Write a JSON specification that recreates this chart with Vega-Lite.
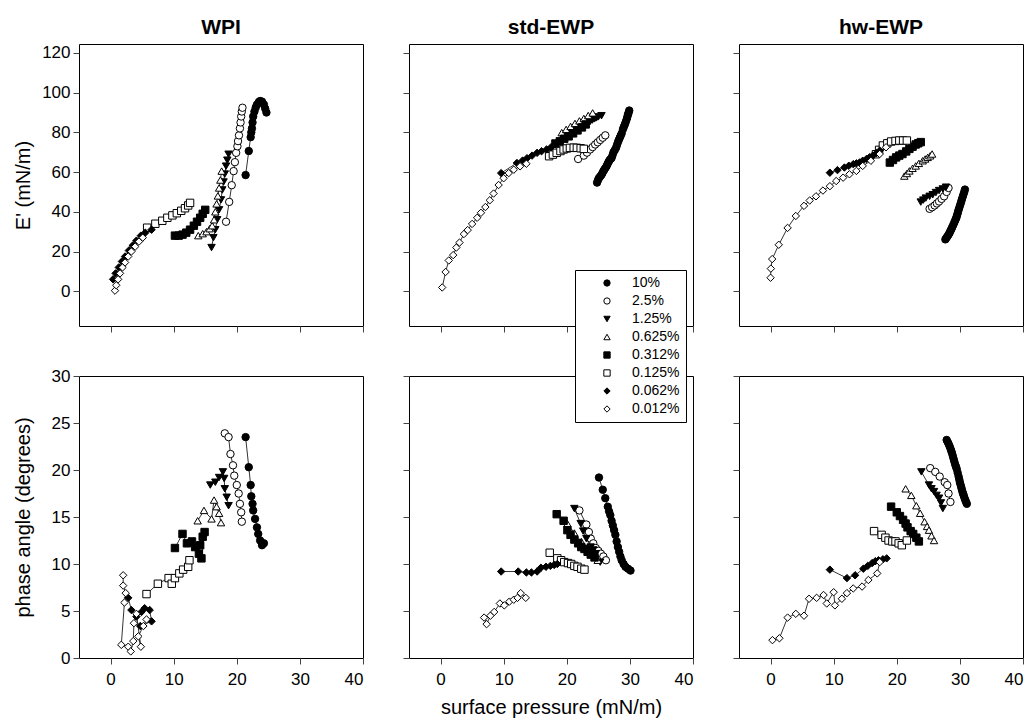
{
"$schema": "https://vega.github.io/schema/vega-lite/v6.json",
"background": "white",
"padding": {"left": 12, "top": 16, "right": 0, "bottom": 0},
"config": {
  "view": {"stroke": "black", "strokeWidth": 1},
  "axis": {"domain": false, "grid": false, "tickColor": "#444", "tickSize": 6, "tickWidth": 1, "labelFont": "Liberation Sans", "labelFontSize": 17, "labelColor": "black", "labelPadding": 3, "titleFont": "Liberation Sans", "titleFontSize": 20, "titleFontWeight": "normal", "titleColor": "black"},
  "axisX": {"labelPadding": 7},
  "title": {"font": "Liberation Sans", "fontSize": 21, "fontWeight": "bold", "color": "black", "offset": 6}
},
"datasets": {
"wE": [
{"c":"10%","x":21.4,"y":58.5},{"c":"10%","x":21.9,"y":70.6},{"c":"10%","x":22.2,"y":77.6},{"c":"10%","x":22.3,"y":80},{"c":"10%","x":22.4,"y":82},{"c":"10%","x":22.5,"y":85},{"c":"10%","x":22.6,"y":88},{"c":"10%","x":22.8,"y":90.5},{"c":"10%","x":23,"y":92.5},{"c":"10%","x":23.2,"y":94},{"c":"10%","x":23.5,"y":95.3},{"c":"10%","x":23.7,"y":95.8},{"c":"10%","x":24,"y":95.5},{"c":"10%","x":24.3,"y":94},{"c":"10%","x":24.5,"y":92},{"c":"10%","x":24.7,"y":90},
{"c":"2.5%","x":18.3,"y":35},{"c":"2.5%","x":18.8,"y":45},{"c":"2.5%","x":19.2,"y":53.4},{"c":"2.5%","x":19.5,"y":60.5},{"c":"2.5%","x":19.7,"y":65},{"c":"2.5%","x":19.9,"y":69.7},{"c":"2.5%","x":20.1,"y":73},{"c":"2.5%","x":20.2,"y":75.6},{"c":"2.5%","x":20.35,"y":78.5},{"c":"2.5%","x":20.5,"y":82},{"c":"2.5%","x":20.6,"y":85},{"c":"2.5%","x":20.7,"y":88},{"c":"2.5%","x":20.8,"y":90.5},{"c":"2.5%","x":20.9,"y":92.4},
{"c":"1.25%","x":16,"y":22},{"c":"1.25%","x":16.3,"y":27},{"c":"1.25%","x":16.6,"y":31},{"c":"1.25%","x":16.9,"y":36},{"c":"1.25%","x":17.2,"y":41},{"c":"1.25%","x":17.5,"y":46},{"c":"1.25%","x":17.7,"y":51},{"c":"1.25%","x":17.9,"y":55},{"c":"1.25%","x":18.1,"y":59},{"c":"1.25%","x":18.3,"y":63},{"c":"1.25%","x":18.5,"y":66},{"c":"1.25%","x":18.7,"y":69},
{"c":"0.625%","x":13.9,"y":28},{"c":"0.625%","x":14.6,"y":29},{"c":"0.625%","x":15.2,"y":30},{"c":"0.625%","x":15.7,"y":31.5},{"c":"0.625%","x":16.1,"y":33},{"c":"0.625%","x":16.4,"y":36},{"c":"0.625%","x":16.6,"y":40},{"c":"0.625%","x":16.8,"y":44},{"c":"0.625%","x":17,"y":48},{"c":"0.625%","x":17.2,"y":52},{"c":"0.625%","x":17.4,"y":56},{"c":"0.625%","x":17.6,"y":60.5},
{"c":"0.312%","x":10.2,"y":28},{"c":"0.312%","x":10.8,"y":28},{"c":"0.312%","x":11.4,"y":28.5},{"c":"0.312%","x":12,"y":29.5},{"c":"0.312%","x":12.6,"y":31},{"c":"0.312%","x":13.2,"y":33},{"c":"0.312%","x":13.7,"y":35},{"c":"0.312%","x":14.2,"y":37},{"c":"0.312%","x":14.6,"y":39},{"c":"0.312%","x":15,"y":41},
{"c":"0.125%","x":5.8,"y":32},{"c":"0.125%","x":7.1,"y":34},{"c":"0.125%","x":8.2,"y":35.5},{"c":"0.125%","x":9,"y":37},{"c":"0.125%","x":9.8,"y":38.2},{"c":"0.125%","x":10.5,"y":39.3},{"c":"0.125%","x":11.2,"y":40.5},{"c":"0.125%","x":11.8,"y":41.8},{"c":"0.125%","x":12.3,"y":43.2},{"c":"0.125%","x":12.6,"y":44.5},
{"c":"0.062%","x":0.4,"y":6},{"c":"0.062%","x":0.8,"y":9},{"c":"0.062%","x":1.3,"y":12},{"c":"0.062%","x":1.8,"y":15},{"c":"0.062%","x":2.3,"y":17.5},{"c":"0.062%","x":2.9,"y":20.5},{"c":"0.062%","x":3.5,"y":23},{"c":"0.062%","x":4.1,"y":25.5},{"c":"0.062%","x":4.8,"y":28},{"c":"0.062%","x":5.5,"y":29.5},{"c":"0.062%","x":6.5,"y":31},
{"c":"0.012%","x":0.7,"y":0.3},{"c":"0.012%","x":0.9,"y":3},{"c":"0.012%","x":1.2,"y":6},{"c":"0.012%","x":1.5,"y":9},{"c":"0.012%","x":1.9,"y":12},{"c":"0.012%","x":2.3,"y":14.5},{"c":"0.012%","x":2.8,"y":17.5},{"c":"0.012%","x":3.3,"y":20},{"c":"0.012%","x":3.9,"y":22.5},{"c":"0.012%","x":4.5,"y":25},{"c":"0.012%","x":5.1,"y":27}
],
"sE": [
{"c":"10%","x":24.8,"y":54.7},{"c":"10%","x":24.95,"y":56},{"c":"10%","x":25.1,"y":57},{"c":"10%","x":25.3,"y":57.8},{"c":"10%","x":25.5,"y":58.6},{"c":"10%","x":25.65,"y":59.5},{"c":"10%","x":25.8,"y":60.5},{"c":"10%","x":25.95,"y":61.2},{"c":"10%","x":26.1,"y":62},{"c":"10%","x":26.3,"y":62.9},{"c":"10%","x":26.45,"y":64},{"c":"10%","x":26.6,"y":65},{"c":"10%","x":26.75,"y":65.8},{"c":"10%","x":26.9,"y":66.5},{"c":"10%","x":27.1,"y":67.1},{"c":"10%","x":27.25,"y":68.5},{"c":"10%","x":27.4,"y":70},{"c":"10%","x":27.6,"y":71},{"c":"10%","x":27.8,"y":72.2},{"c":"10%","x":27.95,"y":73.6},{"c":"10%","x":28.1,"y":75},{"c":"10%","x":28.25,"y":76.2},{"c":"10%","x":28.4,"y":77.3},{"c":"10%","x":28.55,"y":78.4},{"c":"10%","x":28.7,"y":79.5},{"c":"10%","x":28.9,"y":81.6},{"c":"10%","x":29.05,"y":82.8},{"c":"10%","x":29.2,"y":84},{"c":"10%","x":29.35,"y":85.3},{"c":"10%","x":29.5,"y":86.7},{"c":"10%","x":29.6,"y":87.8},{"c":"10%","x":29.7,"y":89},{"c":"10%","x":29.8,"y":90},{"c":"10%","x":29.9,"y":91},
{"c":"2.5%","x":21.8,"y":66.6},{"c":"2.5%","x":22.7,"y":68.3},{"c":"2.5%","x":23.2,"y":69.8},{"c":"2.5%","x":23.7,"y":71.4},{"c":"2.5%","x":24.1,"y":72.6},{"c":"2.5%","x":24.5,"y":73.9},{"c":"2.5%","x":24.9,"y":75},{"c":"2.5%","x":25.3,"y":76.2},{"c":"2.5%","x":25.7,"y":77.3},{"c":"2.5%","x":26.1,"y":78.5},
{"c":"1.25%","x":19.5,"y":76.5},{"c":"1.25%","x":19.85,"y":77.2},{"c":"1.25%","x":20.2,"y":78},{"c":"1.25%","x":20.55,"y":78.7},{"c":"1.25%","x":20.9,"y":79.5},{"c":"1.25%","x":21.25,"y":80.2},{"c":"1.25%","x":21.6,"y":81},{"c":"1.25%","x":21.95,"y":81.8},{"c":"1.25%","x":22.3,"y":82.5},{"c":"1.25%","x":22.65,"y":83.2},{"c":"1.25%","x":23,"y":84},{"c":"1.25%","x":23.35,"y":84.8},{"c":"1.25%","x":23.7,"y":85.5},{"c":"1.25%","x":24.05,"y":86.2},{"c":"1.25%","x":24.4,"y":86.8},{"c":"1.25%","x":24.7,"y":87.3},{"c":"1.25%","x":25,"y":87.8},{"c":"1.25%","x":25.5,"y":88.4},
{"c":"0.625%","x":19.2,"y":79.9},{"c":"0.625%","x":19.9,"y":81.5},{"c":"0.625%","x":20.6,"y":83},{"c":"0.625%","x":21.3,"y":84.5},{"c":"0.625%","x":22,"y":85.8},{"c":"0.625%","x":22.7,"y":87},{"c":"0.625%","x":23.4,"y":88.5},{"c":"0.625%","x":24.1,"y":89.8},
{"c":"0.312%","x":18.2,"y":74.4},{"c":"0.312%","x":18.9,"y":75.5},{"c":"0.312%","x":19.6,"y":76.8},{"c":"0.312%","x":20.3,"y":78},{"c":"0.312%","x":21,"y":79.5},{"c":"0.312%","x":21.7,"y":81},{"c":"0.312%","x":22.4,"y":82.5},{"c":"0.312%","x":23,"y":84},
{"c":"0.125%","x":17.2,"y":68},{"c":"0.125%","x":17.8,"y":68.8},{"c":"0.125%","x":18.4,"y":69.7},{"c":"0.125%","x":19,"y":70.6},{"c":"0.125%","x":19.5,"y":71.4},{"c":"0.125%","x":20,"y":71.9},{"c":"0.125%","x":20.5,"y":72.2},{"c":"0.125%","x":21.1,"y":72.3},{"c":"0.125%","x":21.6,"y":72.2},{"c":"0.125%","x":22.2,"y":72},{"c":"0.125%","x":22.7,"y":71.7},
{"c":"0.062%","x":9.6,"y":59.5},{"c":"0.062%","x":12.1,"y":64.6},{"c":"0.062%","x":13,"y":65.8},{"c":"0.062%","x":13.7,"y":67},{"c":"0.062%","x":14.5,"y":68.3},{"c":"0.062%","x":15.3,"y":69.7},{"c":"0.062%","x":16,"y":70.5},{"c":"0.062%","x":16.8,"y":71.4},{"c":"0.062%","x":17.5,"y":72.5},{"c":"0.062%","x":18.2,"y":74},
{"c":"0.012%","x":0.26,"y":1.9},{"c":"0.012%","x":0.8,"y":9.7},{"c":"0.012%","x":1.3,"y":15.5},{"c":"0.012%","x":2,"y":18.2},{"c":"0.012%","x":2.5,"y":22},{"c":"0.012%","x":3,"y":24.5},{"c":"0.012%","x":3.7,"y":28.8},{"c":"0.012%","x":4.3,"y":30.8},{"c":"0.012%","x":5,"y":33.9},{"c":"0.012%","x":5.8,"y":37},{"c":"0.012%","x":6.4,"y":39.5},{"c":"0.012%","x":7.1,"y":42.4},{"c":"0.012%","x":7.8,"y":45.8},{"c":"0.012%","x":8.4,"y":49.2},{"c":"0.012%","x":9.2,"y":53.5},{"c":"0.012%","x":10,"y":56.9},{"c":"0.012%","x":10.8,"y":59.5},{"c":"0.012%","x":11.6,"y":61.2},{"c":"0.012%","x":12.6,"y":62.9},{"c":"0.012%","x":13.6,"y":64.2}
],
"hE": [
{"c":"10%","x":27.7,"y":26.1},{"c":"10%","x":27.85,"y":26.8},{"c":"10%","x":28,"y":27.5},{"c":"10%","x":28.15,"y":28.2},{"c":"10%","x":28.3,"y":29},{"c":"10%","x":28.42,"y":29.8},{"c":"10%","x":28.55,"y":30.7},{"c":"10%","x":28.68,"y":31.5},{"c":"10%","x":28.8,"y":32.4},{"c":"10%","x":28.95,"y":33.4},{"c":"10%","x":29.1,"y":34.5},{"c":"10%","x":29.25,"y":35.6},{"c":"10%","x":29.4,"y":36.7},{"c":"10%","x":29.5,"y":37.7},{"c":"10%","x":29.6,"y":38.8},{"c":"10%","x":29.7,"y":39.9},{"c":"10%","x":29.8,"y":41},{"c":"10%","x":29.92,"y":42.2},{"c":"10%","x":30.05,"y":43.5},{"c":"10%","x":30.18,"y":44.8},{"c":"10%","x":30.3,"y":46.1},{"c":"10%","x":30.42,"y":47.3},{"c":"10%","x":30.55,"y":48.6},{"c":"10%","x":30.68,"y":49.9},{"c":"10%","x":30.8,"y":51.2},
{"c":"2.5%","x":25.2,"y":41.5},{"c":"2.5%","x":25.6,"y":42.3},{"c":"2.5%","x":26,"y":43.2},{"c":"2.5%","x":26.35,"y":44.2},{"c":"2.5%","x":26.7,"y":45.2},{"c":"2.5%","x":27.1,"y":46.5},{"c":"2.5%","x":27.5,"y":47.8},{"c":"2.5%","x":27.9,"y":50},{"c":"2.5%","x":28.2,"y":52},
{"c":"1.25%","x":23.8,"y":44.9},{"c":"1.25%","x":24.2,"y":45.9},{"c":"1.25%","x":24.6,"y":46.9},{"c":"1.25%","x":25.2,"y":47.8},{"c":"1.25%","x":25.7,"y":48.6},{"c":"1.25%","x":26.2,"y":49.7},{"c":"1.25%","x":26.7,"y":50.7},{"c":"1.25%","x":27.3,"y":51.5},{"c":"1.25%","x":27.8,"y":52.4},
{"c":"0.625%","x":21.2,"y":58},{"c":"0.625%","x":21.6,"y":59.3},{"c":"0.625%","x":22,"y":60.6},{"c":"0.625%","x":22.5,"y":61.9},{"c":"0.625%","x":23,"y":63.1},{"c":"0.625%","x":23.5,"y":64.4},{"c":"0.625%","x":24.1,"y":65.7},{"c":"0.625%","x":24.5,"y":66.6},{"c":"0.625%","x":24.9,"y":67.4},{"c":"0.625%","x":25.3,"y":68.2},{"c":"0.625%","x":25.6,"y":69.1},
{"c":"0.312%","x":18.9,"y":64.8},{"c":"0.312%","x":19.4,"y":66.1},{"c":"0.312%","x":19.9,"y":67.4},{"c":"0.312%","x":20.4,"y":68.3},{"c":"0.312%","x":20.9,"y":69.1},{"c":"0.312%","x":21.5,"y":70.4},{"c":"0.312%","x":22,"y":71.7},{"c":"0.312%","x":22.5,"y":72.8},{"c":"0.312%","x":23,"y":73.9},{"c":"0.312%","x":23.4,"y":74.5},{"c":"0.312%","x":23.8,"y":75.1},
{"c":"0.125%","x":16.7,"y":69},{"c":"0.125%","x":17.2,"y":71.2},{"c":"0.125%","x":17.8,"y":73.4},{"c":"0.125%","x":18.5,"y":74.5},{"c":"0.125%","x":19.1,"y":75.4},{"c":"0.125%","x":19.8,"y":75.7},{"c":"0.125%","x":20.4,"y":75.9},{"c":"0.125%","x":21,"y":75.9},{"c":"0.125%","x":21.6,"y":75.9},
{"c":"0.062%","x":9.4,"y":59.7},{"c":"0.062%","x":10.6,"y":61},{"c":"0.062%","x":11.7,"y":62.3},{"c":"0.062%","x":12.4,"y":63.2},{"c":"0.062%","x":13.1,"y":64},{"c":"0.062%","x":13.6,"y":64.4},{"c":"0.062%","x":14.1,"y":64.8},{"c":"0.062%","x":14.6,"y":65.7},{"c":"0.062%","x":15.2,"y":66.6},{"c":"0.062%","x":15.7,"y":67.5},{"c":"0.062%","x":16.2,"y":68.3},{"c":"0.062%","x":16.8,"y":69.6},{"c":"0.062%","x":17.3,"y":70.8},
{"c":"0.012%","x":0,"y":6.8},{"c":"0.012%","x":0.05,"y":11.4},{"c":"0.012%","x":0.26,"y":16.2},{"c":"0.012%","x":1.3,"y":23.4},{"c":"0.012%","x":2.7,"y":31.9},{"c":"0.012%","x":4,"y":37.9},{"c":"0.012%","x":5.3,"y":43},{"c":"0.012%","x":6.2,"y":45.7},{"c":"0.012%","x":7.2,"y":47.8},{"c":"0.012%","x":8.3,"y":50.7},{"c":"0.012%","x":9.4,"y":52.9},{"c":"0.012%","x":10.4,"y":55.5},{"c":"0.012%","x":11.5,"y":57.2},{"c":"0.012%","x":12.5,"y":58.9},{"c":"0.012%","x":13.6,"y":60.6},{"c":"0.012%","x":14.6,"y":63.1},{"c":"0.012%","x":15.9,"y":65.7},{"c":"0.012%","x":17.3,"y":69.1},{"c":"0.012%","x":18.3,"y":72.5}
],
"wP": [
{"c":"10%","x":21.4,"y":23.5},{"c":"10%","x":21.9,"y":20.3},{"c":"10%","x":22.2,"y":18.4},{"c":"10%","x":22.3,"y":17.2},{"c":"10%","x":22.5,"y":16.4},{"c":"10%","x":22.6,"y":15.7},{"c":"10%","x":22.9,"y":14.8},{"c":"10%","x":23.2,"y":13.9},{"c":"10%","x":23.4,"y":13.2},{"c":"10%","x":23.7,"y":12.5},{"c":"10%","x":24,"y":12},{"c":"10%","x":24.3,"y":12.2},
{"c":"2.5%","x":18.1,"y":23.9},{"c":"2.5%","x":18.7,"y":23.5},{"c":"2.5%","x":19,"y":21.7},{"c":"2.5%","x":19.4,"y":20.5},{"c":"2.5%","x":19.6,"y":19.4},{"c":"2.5%","x":20,"y":18.4},{"c":"2.5%","x":20.3,"y":17.5},{"c":"2.5%","x":20.5,"y":16.4},{"c":"2.5%","x":20.7,"y":15.5},{"c":"2.5%","x":20.8,"y":14.5},
{"c":"1.25%","x":15.8,"y":18.4},{"c":"1.25%","x":16.6,"y":18.7},{"c":"1.25%","x":17.2,"y":19.2},{"c":"1.25%","x":17.8,"y":19.8},{"c":"1.25%","x":18,"y":19.1},{"c":"1.25%","x":18.1,"y":18},{"c":"1.25%","x":18.4,"y":17.1},{"c":"1.25%","x":18.7,"y":16.2},
{"c":"0.625%","x":13.8,"y":14.6},{"c":"0.625%","x":14.8,"y":15.7},{"c":"0.625%","x":16,"y":14.8},{"c":"0.625%","x":16.4,"y":16.8},{"c":"0.625%","x":16.8,"y":16.1},{"c":"0.625%","x":17.2,"y":15.4},{"c":"0.625%","x":17.5,"y":14.4},
{"c":"0.312%","x":10.2,"y":11.7},{"c":"0.312%","x":11.4,"y":13.2},{"c":"0.312%","x":12.1,"y":12.2},{"c":"0.312%","x":12.9,"y":12.4},{"c":"0.312%","x":13.4,"y":11.8},{"c":"0.312%","x":14,"y":11.1},{"c":"0.312%","x":14.2,"y":12},{"c":"0.312%","x":14.6,"y":12.9},{"c":"0.312%","x":14.9,"y":13.4},{"c":"0.312%","x":14.4,"y":10.6},
{"c":"0.125%","x":5.7,"y":6.8},{"c":"0.125%","x":7.5,"y":7.9},{"c":"0.125%","x":9.2,"y":8.5},{"c":"0.125%","x":9.7,"y":7.9},{"c":"0.125%","x":10.2,"y":8.5},{"c":"0.125%","x":10.9,"y":9},{"c":"0.125%","x":11.5,"y":9.4},{"c":"0.125%","x":12.3,"y":9.7},{"c":"0.125%","x":12.5,"y":10.4},
{"c":"0.062%","x":2.8,"y":6.4},{"c":"0.062%","x":3.3,"y":5.1},{"c":"0.062%","x":4.1,"y":4.4},{"c":"0.062%","x":4.9,"y":4.9},{"c":"0.062%","x":5.4,"y":5.3},{"c":"0.062%","x":6.2,"y":5.1},{"c":"0.062%","x":6.5,"y":3.9},{"c":"0.062%","x":4.7,"y":3.4},
{"c":"0.012%","x":2,"y":8.8},{"c":"0.012%","x":2,"y":7.7},{"c":"0.012%","x":2.4,"y":6.9},{"c":"0.012%","x":2.2,"y":5.9},{"c":"0.012%","x":1.7,"y":1.4},{"c":"0.012%","x":2.8,"y":1.2},{"c":"0.012%","x":3.2,"y":0.7},{"c":"0.012%","x":3.6,"y":1.8},{"c":"0.012%","x":3.7,"y":3.7},{"c":"0.012%","x":4.1,"y":4.7},{"c":"0.012%","x":4.8,"y":1.2},{"c":"0.012%","x":4.4,"y":2.3},{"c":"0.012%","x":5.2,"y":3.4},{"c":"0.012%","x":5.7,"y":4.1}
],
"sP": [
{"c":"10%","x":25.1,"y":19.2},{"c":"10%","x":25.7,"y":17.9},{"c":"10%","x":26.1,"y":17},{"c":"10%","x":26.5,"y":16.1},{"c":"10%","x":26.7,"y":15.6},{"c":"10%","x":26.9,"y":15.2},{"c":"10%","x":27.1,"y":14.6},{"c":"10%","x":27.3,"y":14.1},{"c":"10%","x":27.5,"y":13.6},{"c":"10%","x":27.7,"y":13.1},{"c":"10%","x":27.9,"y":12.4},{"c":"10%","x":28.1,"y":11.8},{"c":"10%","x":28.3,"y":11.3},{"c":"10%","x":28.5,"y":10.8},{"c":"10%","x":28.7,"y":10.4},{"c":"10%","x":29,"y":10},{"c":"10%","x":29.3,"y":9.7},{"c":"10%","x":29.7,"y":9.5},{"c":"10%","x":30.1,"y":9.3},
{"c":"2.5%","x":22,"y":15.7},{"c":"2.5%","x":23.1,"y":14.2},{"c":"2.5%","x":23.5,"y":13.4},{"c":"2.5%","x":23.8,"y":12.7},{"c":"2.5%","x":24.2,"y":12.2},{"c":"2.5%","x":24.6,"y":11.7},{"c":"2.5%","x":25,"y":11.4},{"c":"2.5%","x":25.4,"y":11.1},{"c":"2.5%","x":25.8,"y":10.8},{"c":"2.5%","x":26.2,"y":10.4},
{"c":"1.25%","x":21.2,"y":15.9},{"c":"1.25%","x":22.2,"y":14.3},{"c":"1.25%","x":22.6,"y":13.5},{"c":"1.25%","x":23.1,"y":12.7},{"c":"1.25%","x":23.8,"y":11.8},{"c":"1.25%","x":24.2,"y":11.5},{"c":"1.25%","x":24.6,"y":11.1},{"c":"1.25%","x":25.3,"y":10.2},
{"c":"0.625%","x":20.1,"y":14.3},{"c":"0.625%","x":21.2,"y":13.3},{"c":"0.625%","x":22.3,"y":12.4},{"c":"0.625%","x":23.2,"y":11.7},{"c":"0.625%","x":24.1,"y":11},{"c":"0.625%","x":24.9,"y":10.4},
{"c":"0.312%","x":18.4,"y":15.3},{"c":"0.312%","x":19.5,"y":14.6},{"c":"0.312%","x":20.1,"y":13.6},{"c":"0.312%","x":20.6,"y":13.1},{"c":"0.312%","x":21.2,"y":12.6},{"c":"0.312%","x":21.8,"y":12.2},{"c":"0.312%","x":22.3,"y":11.8},{"c":"0.312%","x":22.8,"y":11.6},{"c":"0.312%","x":23.3,"y":11.3},{"c":"0.312%","x":23.8,"y":11},{"c":"0.312%","x":24.4,"y":10.7},
{"c":"0.125%","x":17.3,"y":11.2},{"c":"0.125%","x":18.5,"y":10.6},{"c":"0.125%","x":19.1,"y":10.4},{"c":"0.125%","x":19.6,"y":10.2},{"c":"0.125%","x":20.2,"y":10.1},{"c":"0.125%","x":20.7,"y":10},{"c":"0.125%","x":21.2,"y":9.8},{"c":"0.125%","x":21.7,"y":9.7},{"c":"0.125%","x":22.3,"y":9.5},{"c":"0.125%","x":22.8,"y":9.4},
{"c":"0.062%","x":9.6,"y":9.2},{"c":"0.062%","x":12.3,"y":9.2},{"c":"0.062%","x":13.6,"y":9.1},{"c":"0.062%","x":14.4,"y":9.1},{"c":"0.062%","x":15.3,"y":9.2},{"c":"0.062%","x":15.9,"y":9.6},{"c":"0.062%","x":16.7,"y":9.7},{"c":"0.062%","x":17.4,"y":9.8},{"c":"0.062%","x":18,"y":9.9},{"c":"0.062%","x":18.5,"y":10},
{"c":"0.012%","x":6.9,"y":4.3},{"c":"0.012%","x":7.3,"y":3.6},{"c":"0.012%","x":7.9,"y":4.5},{"c":"0.012%","x":8.5,"y":4.9},{"c":"0.012%","x":9.4,"y":5.8},{"c":"0.012%","x":10.1,"y":5.6},{"c":"0.012%","x":10.9,"y":6},{"c":"0.012%","x":11.6,"y":6.2},{"c":"0.012%","x":12.2,"y":6.4},{"c":"0.012%","x":12.7,"y":6.9},{"c":"0.012%","x":13.5,"y":6.4}
],
"hP": [
{"c":"10%","x":27.9,"y":23.2},{"c":"10%","x":28.05,"y":23},{"c":"10%","x":28.2,"y":22.8},{"c":"10%","x":28.35,"y":22.55},{"c":"10%","x":28.5,"y":22.3},{"c":"10%","x":28.62,"y":22.05},{"c":"10%","x":28.75,"y":21.8},{"c":"10%","x":28.88,"y":21.5},{"c":"10%","x":29,"y":21.2},{"c":"10%","x":29.12,"y":20.9},{"c":"10%","x":29.25,"y":20.6},{"c":"10%","x":29.38,"y":20.35},{"c":"10%","x":29.5,"y":20.1},{"c":"10%","x":29.65,"y":19.7},{"c":"10%","x":29.8,"y":19.3},{"c":"10%","x":29.9,"y":19},{"c":"10%","x":30,"y":18.7},{"c":"10%","x":30.1,"y":18.45},{"c":"10%","x":30.2,"y":18.2},{"c":"10%","x":30.3,"y":17.95},{"c":"10%","x":30.4,"y":17.7},{"c":"10%","x":30.5,"y":17.5},{"c":"10%","x":30.6,"y":17.3},{"c":"10%","x":30.72,"y":17.05},{"c":"10%","x":30.85,"y":16.8},{"c":"10%","x":30.98,"y":16.6},{"c":"10%","x":31.1,"y":16.4},
{"c":"2.5%","x":25.3,"y":20.2},{"c":"2.5%","x":26.1,"y":19.8},{"c":"2.5%","x":26.8,"y":19.3},{"c":"2.5%","x":27.6,"y":18.7},{"c":"2.5%","x":28,"y":18.4},{"c":"2.5%","x":28.2,"y":17.5},{"c":"2.5%","x":28.5,"y":16.6},
{"c":"1.25%","x":23.9,"y":19.8},{"c":"1.25%","x":25.1,"y":18.4},{"c":"1.25%","x":25.5,"y":18},{"c":"1.25%","x":25.9,"y":17.7},{"c":"1.25%","x":26.3,"y":17.3},{"c":"1.25%","x":26.7,"y":17},{"c":"1.25%","x":27,"y":16.5},{"c":"1.25%","x":27.3,"y":15.9},
{"c":"0.625%","x":21.4,"y":18},{"c":"0.625%","x":22.3,"y":17.3},{"c":"0.625%","x":23.1,"y":16.2},{"c":"0.625%","x":23.7,"y":15.4},{"c":"0.625%","x":24.4,"y":14.5},{"c":"0.625%","x":24.8,"y":14},{"c":"0.625%","x":25.1,"y":13.6},{"c":"0.625%","x":25.5,"y":13},{"c":"0.625%","x":25.9,"y":12.5},
{"c":"0.312%","x":19.1,"y":16.1},{"c":"0.312%","x":20,"y":15.5},{"c":"0.312%","x":20.5,"y":15.1},{"c":"0.312%","x":21,"y":14.7},{"c":"0.312%","x":21.4,"y":14.3},{"c":"0.312%","x":21.7,"y":13.9},{"c":"0.312%","x":22.2,"y":13.5},{"c":"0.312%","x":22.6,"y":13.2},{"c":"0.312%","x":23.1,"y":12.8},{"c":"0.312%","x":23.5,"y":12.4},
{"c":"0.125%","x":16.4,"y":13.5},{"c":"0.125%","x":17.6,"y":13.1},{"c":"0.125%","x":18.2,"y":12.8},{"c":"0.125%","x":18.7,"y":12.5},{"c":"0.125%","x":19.3,"y":12.4},{"c":"0.125%","x":19.8,"y":12.4},{"c":"0.125%","x":20.3,"y":12.2},{"c":"0.125%","x":20.8,"y":12},{"c":"0.125%","x":21.6,"y":12.5},
{"c":"0.062%","x":9.4,"y":9.4},{"c":"0.062%","x":12.1,"y":8.5},{"c":"0.062%","x":13.4,"y":8.8},{"c":"0.062%","x":14.7,"y":9.5},{"c":"0.062%","x":15.4,"y":9.8},{"c":"0.062%","x":16.1,"y":10.1},{"c":"0.062%","x":16.6,"y":10.3},{"c":"0.062%","x":17.1,"y":10.4},{"c":"0.062%","x":17.8,"y":10.5},{"c":"0.062%","x":18.4,"y":10.6},
{"c":"0.012%","x":0.3,"y":1.9},{"c":"0.012%","x":1.4,"y":2.1},{"c":"0.012%","x":2.7,"y":4.3},{"c":"0.012%","x":4,"y":4.7},{"c":"0.012%","x":5.3,"y":4.5},{"c":"0.012%","x":6.1,"y":6.3},{"c":"0.012%","x":7.3,"y":6.4},{"c":"0.012%","x":8.4,"y":6.7},{"c":"0.012%","x":8.9,"y":5.8},{"c":"0.012%","x":10,"y":7},{"c":"0.012%","x":10.2,"y":5.6},{"c":"0.012%","x":11.3,"y":6.3},{"c":"0.012%","x":12.1,"y":6.9},{"c":"0.012%","x":13.1,"y":7.4},{"c":"0.012%","x":14.5,"y":7.6},{"c":"0.012%","x":15.5,"y":8.3},{"c":"0.012%","x":16.9,"y":9},{"c":"0.012%","x":17.3,"y":10.2}
]
},
"bounds": "flush",
"columns": 3,
"spacing": {"row": 50, "column": 46},
"resolve": {"legend": {"shape": "independent", "fill": "independent", "stroke": "independent"}},
"concat": [
  {"width": 284, "height": 282, "data": {"name": "wE"}, "title": "WPI",
   "transform": [{"window": [{"op": "row_number", "as": "i"}]}],
   "encoding": {
    "x": {"field": "x", "type": "quantitative", "scale": {"domain": [-5, 40], "nice": false, "zero": false}, "axis": {"values": [0,10,20,30,40], "labels": false, "title": null}},
    "y": {"field": "y", "type": "quantitative", "scale": {"domain": [-17.5, 124.5], "nice": false, "zero": false}, "axis": {"values": [0,20,40,60,80,100,120], "title": "E' (mN/m)", "titlePadding": 8}}
   },
   "layer": [
    {"mark": {"type": "line", "color": "black", "strokeWidth": 0.8}, "encoding": {"detail": {"field": "c"}, "order": {"field": "i", "type": "quantitative"}}},
    {"mark": {"type": "point", "filled": true, "strokeWidth": 1, "opacity": 1, "size": 55},
     "encoding": {
      "shape": {"field": "c", "type": "nominal", "scale": {"domain": ["10%","2.5%","1.25%","0.625%","0.312%","0.125%","0.062%","0.012%"], "range": ["circle","circle","triangle-down","triangle-up","square","square","diamond","diamond"]}, "legend": null},
      "fill": {"field": "c", "type": "nominal", "scale": {"domain": ["10%","2.5%","1.25%","0.625%","0.312%","0.125%","0.062%","0.012%"], "range": ["black","white","black","white","black","white","black","white"]}, "legend": null},
      "stroke": {"field": "c", "type": "nominal", "scale": {"domain": ["10%","2.5%","1.25%","0.625%","0.312%","0.125%","0.062%","0.012%"], "range": ["black","black","black","black","black","black","black","black"]}, "legend": null}
     }}
   ]
  },
  {"width": 284, "height": 282, "data": {"name": "sE"}, "title": "std-EWP",
   "transform": [{"window": [{"op": "row_number", "as": "i"}]}],
   "encoding": {
    "x": {"field": "x", "type": "quantitative", "scale": {"domain": [-5, 40], "nice": false, "zero": false}, "axis": {"values": [0,10,20,30,40], "labels": false, "title": null}},
    "y": {"field": "y", "type": "quantitative", "scale": {"domain": [-17.5, 124.5], "nice": false, "zero": false}, "axis": {"values": [0,20,40,60,80,100,120], "labels": false, "title": null}}
   },
   "layer": [
    {"mark": {"type": "line", "color": "black", "strokeWidth": 0.8}, "encoding": {"detail": {"field": "c"}, "order": {"field": "i", "type": "quantitative"}}},
    {"mark": {"type": "point", "filled": true, "strokeWidth": 1, "opacity": 1, "size": 55},
     "encoding": {
      "shape": {"field": "c", "type": "nominal", "scale": {"domain": ["10%","2.5%","1.25%","0.625%","0.312%","0.125%","0.062%","0.012%"], "range": ["circle","circle","triangle-down","triangle-up","square","square","diamond","diamond"]}, "legend": null},
      "fill": {"field": "c", "type": "nominal", "scale": {"domain": ["10%","2.5%","1.25%","0.625%","0.312%","0.125%","0.062%","0.012%"], "range": ["black","white","black","white","black","white","black","white"]}, "legend": null},
      "stroke": {"field": "c", "type": "nominal", "scale": {"domain": ["10%","2.5%","1.25%","0.625%","0.312%","0.125%","0.062%","0.012%"], "range": ["black","black","black","black","black","black","black","black"]}, "legend": null}
     }}
   ]
  },
  {"width": 284, "height": 282, "data": {"name": "hE"}, "title": "hw-EWP",
   "transform": [{"window": [{"op": "row_number", "as": "i"}]}],
   "encoding": {
    "x": {"field": "x", "type": "quantitative", "scale": {"domain": [-5, 40], "nice": false, "zero": false}, "axis": {"values": [0,10,20,30,40], "labels": false, "title": null}},
    "y": {"field": "y", "type": "quantitative", "scale": {"domain": [-17.5, 124.5], "nice": false, "zero": false}, "axis": {"values": [0,20,40,60,80,100,120], "labels": false, "title": null}}
   },
   "layer": [
    {"mark": {"type": "line", "color": "black", "strokeWidth": 0.8}, "encoding": {"detail": {"field": "c"}, "order": {"field": "i", "type": "quantitative"}}},
    {"mark": {"type": "point", "filled": true, "strokeWidth": 1, "opacity": 1, "size": 55},
     "encoding": {
      "shape": {"field": "c", "type": "nominal", "scale": {"domain": ["10%","2.5%","1.25%","0.625%","0.312%","0.125%","0.062%","0.012%"], "range": ["circle","circle","triangle-down","triangle-up","square","square","diamond","diamond"]}, "legend": null},
      "fill": {"field": "c", "type": "nominal", "scale": {"domain": ["10%","2.5%","1.25%","0.625%","0.312%","0.125%","0.062%","0.012%"], "range": ["black","white","black","white","black","white","black","white"]}, "legend": null},
      "stroke": {"field": "c", "type": "nominal", "scale": {"domain": ["10%","2.5%","1.25%","0.625%","0.312%","0.125%","0.062%","0.012%"], "range": ["black","black","black","black","black","black","black","black"]}, "legend": null}
     }}
   ]
  },
  {"width": 284, "height": 282, "data": {"name": "wP"},
   "transform": [{"window": [{"op": "row_number", "as": "i"}]}],
   "encoding": {
    "x": {"field": "x", "type": "quantitative", "scale": {"domain": [-5, 40], "nice": false, "zero": false}, "axis": {"values": [0,10,20,30,40], "title": null}},
    "y": {"field": "y", "type": "quantitative", "scale": {"domain": [0, 30], "nice": false}, "axis": {"values": [0,5,10,15,20,25,30], "title": "phase angle (degrees)", "titlePadding": 18}}
   },
   "layer": [
    {"mark": {"type": "line", "color": "black", "strokeWidth": 0.8}, "encoding": {"detail": {"field": "c"}, "order": {"field": "i", "type": "quantitative"}}},
    {"mark": {"type": "point", "filled": true, "strokeWidth": 1, "opacity": 1, "size": 55},
     "encoding": {
      "shape": {"field": "c", "type": "nominal", "scale": {"domain": ["10%","2.5%","1.25%","0.625%","0.312%","0.125%","0.062%","0.012%"], "range": ["circle","circle","triangle-down","triangle-up","square","square","diamond","diamond"]}, "legend": null},
      "fill": {"field": "c", "type": "nominal", "scale": {"domain": ["10%","2.5%","1.25%","0.625%","0.312%","0.125%","0.062%","0.012%"], "range": ["black","white","black","white","black","white","black","white"]}, "legend": null},
      "stroke": {"field": "c", "type": "nominal", "scale": {"domain": ["10%","2.5%","1.25%","0.625%","0.312%","0.125%","0.062%","0.012%"], "range": ["black","black","black","black","black","black","black","black"]}, "legend": null}
     }}
   ]
  },
  {"width": 284, "height": 282, "data": {"name": "sP"},
   "transform": [{"window": [{"op": "row_number", "as": "i"}]}],
   "encoding": {
    "x": {"field": "x", "type": "quantitative", "scale": {"domain": [-5, 40], "nice": false, "zero": false}, "axis": {"values": [0,10,20,30,40], "title": "surface pressure (mN/m)", "titlePadding": 10}},
    "y": {"field": "y", "type": "quantitative", "scale": {"domain": [0, 30], "nice": false}, "axis": {"values": [0,5,10,15,20,25,30], "labels": false, "title": null}}
   },
   "layer": [
    {"mark": {"type": "line", "color": "black", "strokeWidth": 0.8}, "encoding": {"detail": {"field": "c"}, "order": {"field": "i", "type": "quantitative"}}},
    {"mark": {"type": "point", "filled": true, "strokeWidth": 1, "opacity": 1, "size": 55},
     "encoding": {
      "shape": {"field": "c", "type": "nominal", "scale": {"domain": ["10%","2.5%","1.25%","0.625%","0.312%","0.125%","0.062%","0.012%"], "range": ["circle","circle","triangle-down","triangle-up","square","square","diamond","diamond"]},
        "legend": {"orient": "none", "legendX": 166, "legendY": -106, "title": null, "strokeColor": "black", "fillColor": "white", "padding": 6, "symbolOffset": 19, "labelOffset": 18, "labelFont": "Liberation Sans", "labelFontSize": 14, "labelColor": "black", "symbolSize": 40, "symbolStrokeWidth": 1, "rowPadding": 4}},
      "fill": {"field": "c", "type": "nominal", "scale": {"domain": ["10%","2.5%","1.25%","0.625%","0.312%","0.125%","0.062%","0.012%"], "range": ["black","white","black","white","black","white","black","white"]},
        "legend": {"orient": "none", "legendX": 166, "legendY": -106, "title": null, "strokeColor": "black", "fillColor": "white", "padding": 6, "symbolOffset": 19, "labelOffset": 18, "labelFont": "Liberation Sans", "labelFontSize": 14, "labelColor": "black", "symbolSize": 40, "symbolStrokeWidth": 1, "rowPadding": 4}},
      "stroke": {"field": "c", "type": "nominal", "scale": {"domain": ["10%","2.5%","1.25%","0.625%","0.312%","0.125%","0.062%","0.012%"], "range": ["black","black","black","black","black","black","black","black"]},
        "legend": {"orient": "none", "legendX": 166, "legendY": -106, "title": null, "strokeColor": "black", "fillColor": "white", "padding": 6, "symbolOffset": 19, "labelOffset": 18, "labelFont": "Liberation Sans", "labelFontSize": 14, "labelColor": "black", "symbolSize": 40, "symbolStrokeWidth": 1, "rowPadding": 4}}
     }}
   ]
  },
  {"width": 284, "height": 282, "data": {"name": "hP"},
   "transform": [{"window": [{"op": "row_number", "as": "i"}]}],
   "encoding": {
    "x": {"field": "x", "type": "quantitative", "scale": {"domain": [-5, 40], "nice": false, "zero": false}, "axis": {"values": [0,10,20,30,40], "title": null}},
    "y": {"field": "y", "type": "quantitative", "scale": {"domain": [0, 30], "nice": false}, "axis": {"values": [0,5,10,15,20,25,30], "labels": false, "title": null}}
   },
   "layer": [
    {"mark": {"type": "line", "color": "black", "strokeWidth": 0.8}, "encoding": {"detail": {"field": "c"}, "order": {"field": "i", "type": "quantitative"}}},
    {"mark": {"type": "point", "filled": true, "strokeWidth": 1, "opacity": 1, "size": 55},
     "encoding": {
      "shape": {"field": "c", "type": "nominal", "scale": {"domain": ["10%","2.5%","1.25%","0.625%","0.312%","0.125%","0.062%","0.012%"], "range": ["circle","circle","triangle-down","triangle-up","square","square","diamond","diamond"]}, "legend": null},
      "fill": {"field": "c", "type": "nominal", "scale": {"domain": ["10%","2.5%","1.25%","0.625%","0.312%","0.125%","0.062%","0.012%"], "range": ["black","white","black","white","black","white","black","white"]}, "legend": null},
      "stroke": {"field": "c", "type": "nominal", "scale": {"domain": ["10%","2.5%","1.25%","0.625%","0.312%","0.125%","0.062%","0.012%"], "range": ["black","black","black","black","black","black","black","black"]}, "legend": null}
     }}
   ]
  }
]
}
